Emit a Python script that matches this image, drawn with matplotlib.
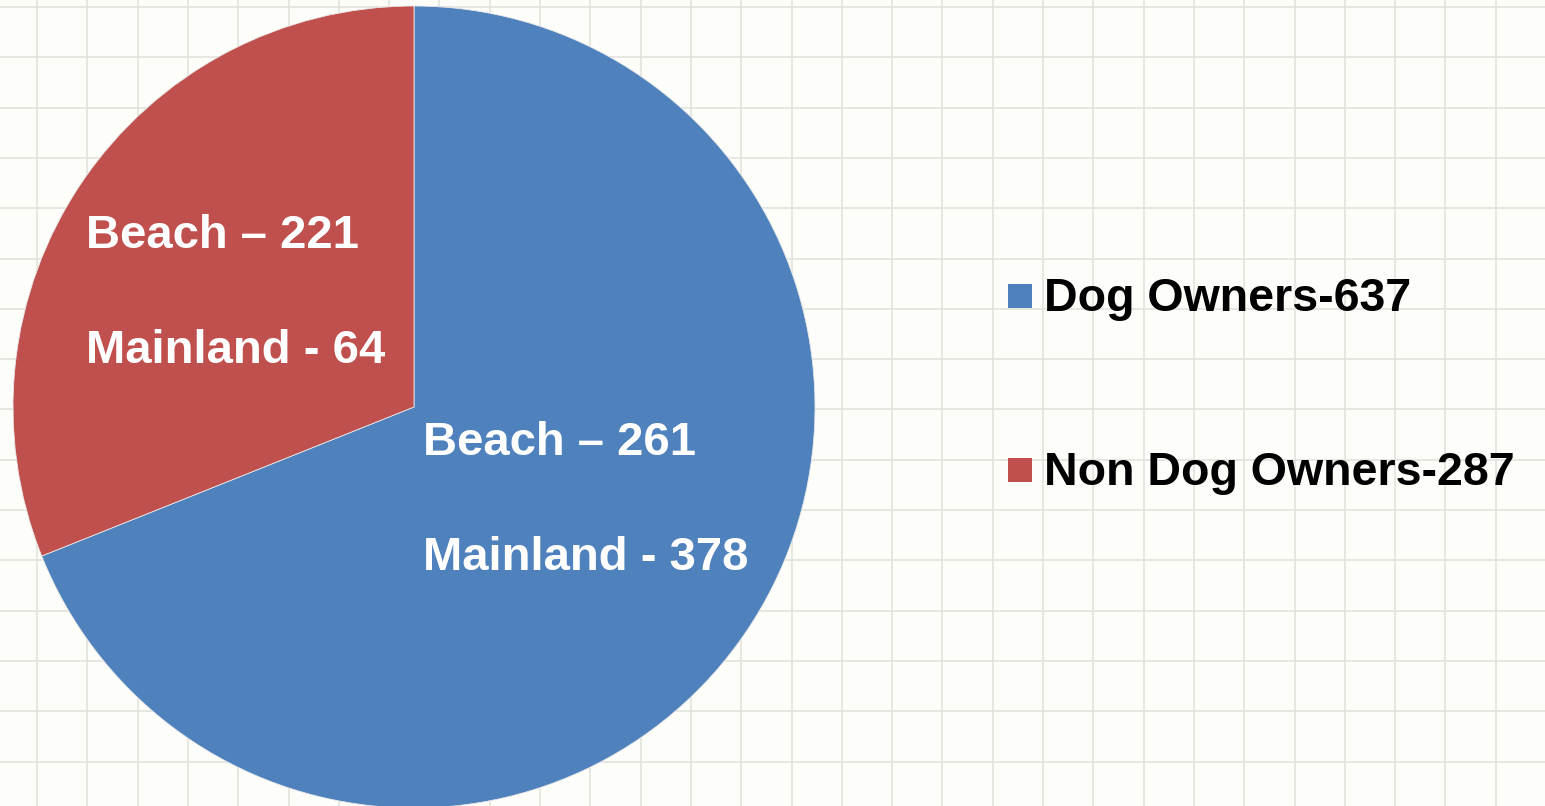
import matplotlib
matplotlib.use("Agg")
import matplotlib.pyplot as plt
import numpy as np
from matplotlib.patches import Rectangle

# Data
groups = ["Dog Owners", "Non Dog Owners"]
totals = [637, 287]
colors = ["#4f81bd", "#c0504d"]
beach = [261, 221]
mainland = [378, 64]

W, H = 1545, 806
fig = plt.figure(figsize=(W / 100, H / 100), dpi=100)
fig.patch.set_facecolor("#fdfdf9")

# graph-paper background
bg = fig.add_axes([0, 0, 1, 1])
bg.set_xlim(0, W)
bg.set_ylim(H, 0)
bg.axis("off")
for x in np.arange(37, W, 50.3):
    bg.axvline(x, color="#e3e3de", lw=1.2, zorder=0)
for y in np.arange(7, H, 50.3):
    bg.axhline(y, color="#e3e3de", lw=1.2, zorder=0)

# pie, centre (414, 407), radius 401 px
cx, cy, r = 414, 407, 401
ax = fig.add_axes([(cx - r) / W, (H - cy - r) / H, 2 * r / W, 2 * r / H])
ax.pie(totals, colors=colors, startangle=90, counterclock=False,
       wedgeprops=dict(linewidth=0.6, edgecolor="#e8e8e8"))
ax.set_xlim(-1, 1)
ax.set_ylim(-1, 1)
ax.set_aspect("equal")
ax.axis("off")

font = "Liberation Sans"

def px_text(x, y, s, **kw):
    fig.text(x / W, 1 - y / H, s, family=font, weight="bold", va="baseline", **kw)

# slice labels
px_text(86, 248, f"Beach \u2013 {beach[1]}", color="white", fontsize=34)
px_text(86, 363, f"Mainland - {mainland[1]}", color="white", fontsize=34)
px_text(423, 455, f"Beach \u2013 {beach[0]}", color="white", fontsize=34)
px_text(423, 570, f"Mainland - {mainland[0]}", color="white", fontsize=34)

# legend
for i, (g, t, c) in enumerate(zip(groups, totals, colors)):
    base = 311 + i * 174
    fig.patches.append(Rectangle((1008 / W, 1 - (base - 3) / H), 24 / W, 24 / H,
                                 transform=fig.transFigure, facecolor=c,
                                 edgecolor="none"))
    px_text(1044, base, f"{g}-{t}", color="black", fontsize=33.5)

fig.savefig("out.png", dpi=100, facecolor=fig.get_facecolor())
